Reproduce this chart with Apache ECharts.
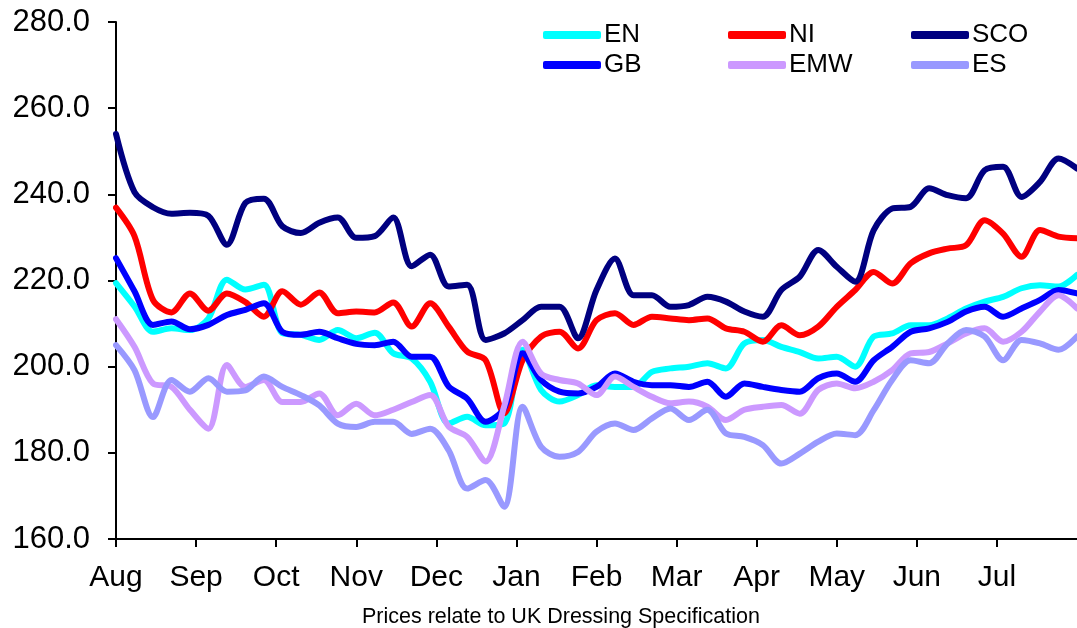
<!DOCTYPE html>
<html>
<head>
<meta charset="utf-8">
<script src="https://cdn.jsdelivr.net/npm/echarts@6/dist/echarts.min.js"></script>
<style>
html,body{margin:0;padding:0;background:#fff;}
#chart{width:1077px;height:628px;}
</style>
</head>
<body>
<div id="chart"></div>
<script>
// Month tick labels (axis covers 52 weeks, Aug to end of Jul)
const months = ['Aug','Sep','Oct','Nov','Dec','Jan','Feb','Mar','Apr','May','Jun','Jul'];
const yTicks = [160, 180, 200, 220, 240, 260, 280];
const subtitle = 'Prices relate to UK Dressing Specification';

// Weekly prices (53 points, week 0..52)
const EN = [219.4,214,208.1,208.9,208.5,211.2,220.2,217.9,219,207.8,207.4,206.2,208.5,206.6,207.9,203.1,201.9,196.5,
  186.8,188.4,186.4,186.8,203.9,194.6,191.9,193.4,195.7,195.3,195.3,198.8,199.6,200,200.8,199.6,205.4,
  206.2,204.6,203.4,201.9,202.3,200,207,207.7,209.6,209.6,211.2,213.5,215.1,216.2,218.2,218.9,218.6,221.3];
const NI = [236.9,230.3,215.5,212.6,217,213,217,215,211.6,217.5,214.4,217.2,212.4,212.8,212.6,214.9,209.3,214.7,
  209.3,203.5,201.5,189.2,201.5,207,208.1,204.2,210.8,212.4,209.7,211.6,211.2,210.8,211.2,208.9,208.1,
  205.8,209.6,207.3,209.3,213.9,217.8,222,219.3,224,226.3,227.4,228.2,234,230.9,225.5,231.7,230.2,229.8];
const SCO = [254,240.5,237,235.5,235.7,235,228.3,238,239,232.6,231,233.4,234.6,229.9,230.3,234.6,223.3,226,
  218.6,219,206.2,207.7,210.8,213.9,213.9,206.6,217.8,225.1,216.6,216.6,213.9,214.3,216.2,215.1,212.8,
  211.6,217.8,220.9,227.1,223.2,219.7,231.7,236.7,237.1,241.4,239.8,239.1,245.6,246.4,239.4,242.9,248.3,246];
const GB = [225.2,217.5,209.7,210.5,208.7,209.7,212,213.2,214.7,208.1,207.4,208.1,206.6,205.3,205,205.8,202.3,202.3,
  195.4,192.6,187.2,190.3,203.1,196.9,194.2,193.8,195.3,198.4,196.5,195.7,195.7,195.3,196.5,193,196.1,
  195.3,194.6,194.2,197.3,198.4,196.5,201.5,204.6,208.1,208.9,210.4,212.8,213.9,211.6,213.5,215.5,217.8,217];
const EMW = [211,204.6,196.1,195.3,190,185.6,200.4,195.3,196.9,191.8,191.8,193.8,188.7,191.4,188.7,190,191.8,193.4,
  186.1,183.7,178,190.7,205.8,198.4,196.9,196.1,193.4,197.7,195.3,193,191.5,191.9,190.7,187.6,190,
  190.7,191.1,189.1,194.6,196.1,195,196.5,199.2,203.1,203.4,205.4,207.7,208.9,205.8,208.1,212.8,216.6,213.5];
const ES = [205,199.2,188.3,196.9,194.2,197.3,194.2,194.5,197.7,195.3,193.4,191,186.8,186,187.2,187.2,184.4,185.6,
  180.6,171.7,173.7,167.5,190.7,181.4,179.1,180.2,184.9,186.8,185.3,188,190.3,187.6,190,184.5,183.7,
  181.8,177.5,179.8,182.6,184.5,184.1,189.9,196.9,201.5,200.8,205.4,208.5,207,201.5,206.2,205.4,203.9,207];

const seriesNames = ['EN','NI','SCO','GB','EMW','ES'];
const seriesData = [EN, NI, SCO, GB, EMW, ES];
const colors = ['#00FFFF','#FF0000','#000080','#0000FF','#CC99FF','#9999FF'];

const weeks = 52;
const monthStep = weeks / 12;

const chart = echarts.init(document.getElementById('chart'), null, {renderer:'canvas'});

const font = 'Liberation Sans, Arial, sans-serif';

const legendCols = [['EN','GB'],['NI','EMW'],['SCO','ES']];
const legendLefts = [538, 723, 906];

const option = {
  animation: false,
  backgroundColor: '#ffffff',
  color: colors,
  title: {
    text: subtitle,
    left: 357,
    top: 601,
    textStyle: {fontFamily: font, fontSize: 21.5, fontWeight: 'normal', color: '#000'}
  },
  legend: legendCols.map((col, k) => ({
    data: col,
    left: legendLefts[k],
    top: 15,
    orient: 'vertical',
    icon: 'roundRect',
    itemWidth: 58,
    itemHeight: 8,
    itemGap: 0,
    selectedMode: false,
    textStyle: {fontFamily: font, fontSize: 26, color: '#000', lineHeight: 30, padding: [0,0,0,-2]}
  })),
  grid: {left: 116, right: 0, top: 22, bottom: 89, containLabel: false},
  xAxis: {
    type: 'value',
    min: 0,
    max: weeks,
    interval: monthStep,
    axisLine: {show: true, onZero: false, lineStyle: {color: '#000', width: 2}},
    axisTick: {show: true, inside: false, length: 8, lineStyle: {color: '#000', width: 2}},
    splitLine: {show: false},
    axisLabel: {
      margin: 24,
      fontFamily: font,
      fontSize: 30,
      color: '#000',
      showMaxLabel: false,
      formatter: function (v) {
        const idx = Math.round(v / monthStep);
        return idx < months.length ? months[idx] : '';
      }
    }
  },
  yAxis: {
    type: 'value',
    min: yTicks[0],
    max: yTicks[yTicks.length - 1],
    interval: 20,
    axisLine: {show: true, lineStyle: {color: '#000', width: 2}},
    axisTick: {show: true, inside: false, length: 8, lineStyle: {color: '#000', width: 2}},
    splitLine: {show: false},
    axisLabel: {
      margin: 26,
      fontFamily: font,
      fontSize: 31,
      color: '#000',
      formatter: v => v.toFixed(1)
    }
  },
  series: seriesNames.map((name, k) => ({
    name: name,
    type: 'line',
    data: seriesData[k].map((v, i) => [i, v]),
    smooth: 0.3,
    showSymbol: false,
    symbol: 'none',
    lineStyle: {color: colors[k], width: 6, cap: 'round', join: 'round'},
    itemStyle: {color: colors[k]},
    emphasis: {disabled: true},
    clip: true
  }))
};

chart.setOption(option);
</script>
</body>
</html>
